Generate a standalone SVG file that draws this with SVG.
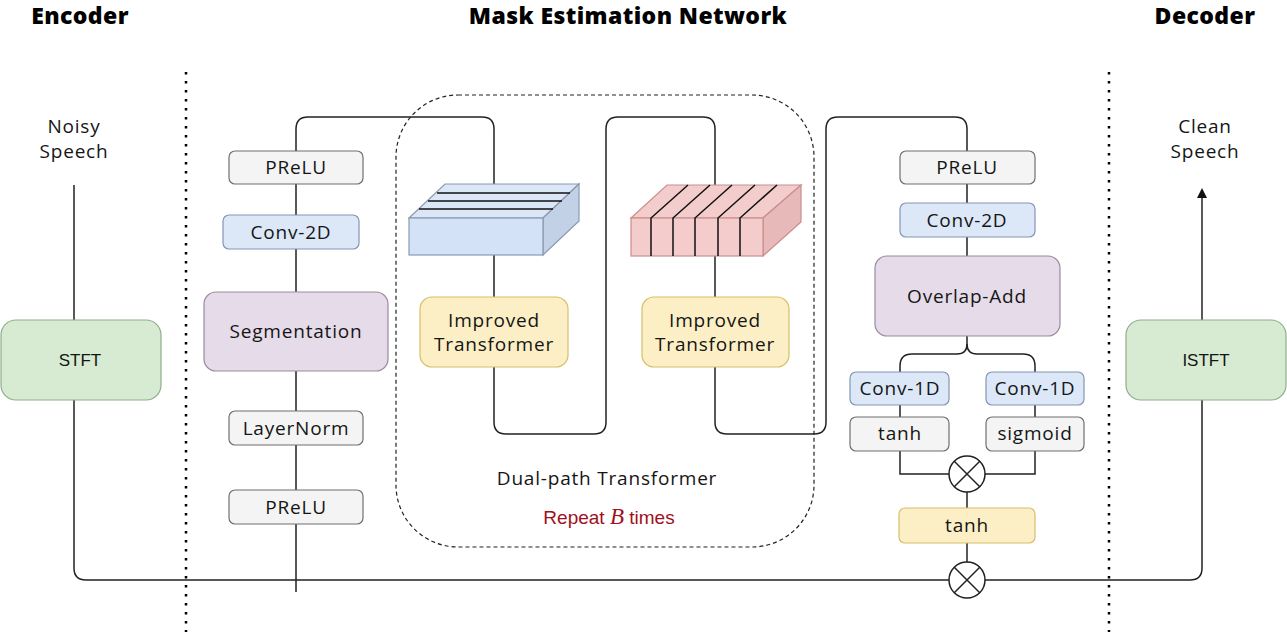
<svg xmlns="http://www.w3.org/2000/svg" width="1287" height="632" viewBox="0 0 1287 632">
<defs>
<style>
.t{font-family:"Open Sans","Liberation Sans",sans-serif;font-size:19px;letter-spacing:0.8px;fill:#151515;text-anchor:middle}
.h{font-family:"Open Sans","Liberation Sans",sans-serif;font-size:23px;letter-spacing:0.4px;font-weight:800;fill:#000;text-anchor:middle}
.a{font-family:"Liberation Sans",Arial,sans-serif;font-size:17px;fill:#151515;text-anchor:middle}
.gray{fill:#f4f4f4;stroke:#6f6f6f;stroke-width:1.2}
.blue{fill:#dce8f8;stroke:#8296b4;stroke-width:1.2}
.purple{fill:#e6dbe8;stroke:#9a8d9e;stroke-width:1.2}
.yellow{fill:#fcefc6;stroke:#d6bf6a;stroke-width:1.2}
.green{fill:#d6ebd1;stroke:#8fae8a;stroke-width:1.2}
.ln{fill:none;stroke:#222;stroke-width:1.5}
.dot{fill:none;stroke:#000;stroke-width:2.5;stroke-dasharray:2.5 6.5}
.mul{fill:#fff;stroke:#222;stroke-width:1.5}
</style>
<marker id="arr" markerWidth="10" markerHeight="10" refX="5" refY="5" orient="auto" markerUnits="userSpaceOnUse">
<path d="M0,0 L10,5 L0,10 Z" fill="#111"/>
</marker>
</defs>
<rect width="1287" height="632" fill="#fff"/>

<g id="titles">
<text class="h" x="80" y="24">Encoder</text>
<text class="h" x="628" y="24">Mask Estimation Network</text>
<text class="h" x="1205" y="24">Decoder</text>
</g>

<g id="separators">
<line class="dot" x1="186" y1="72" x2="186" y2="632"/>
<line class="dot" x1="1109" y1="72" x2="1109" y2="632"/>
</g>

<g id="connectors">
<path class="ln" d="M74,185 V568 Q74,580 86,580 H949"/>
<path class="ln" d="M985,580 H1190 Q1202,580 1202,568 V400"/>
<path class="ln" d="M1202,320 V193" marker-end="url(#arr)"/>
<path class="ln" d="M296,592 V129 Q296,117 308,117 H482 Q494,117 494,129 V422 Q494,434 506,434 H594 Q606,434 606,422 V129 Q606,117 618,117 H703 Q715,117 715,129 V422 Q715,434 727,434 H814 Q826,434 826,422 V129 Q826,117 838,117 H955 Q967,117 967,129 V336"/>
<path class="ln" d="M967,336 V344 Q967,354 957,354 H912 Q900,354 900,366 V474 H949"/>
<path class="ln" d="M967,344 Q967,354 977,354 H1023 Q1035,354 1035,366 V474 H985"/>
<path class="ln" d="M967,492 V562"/>
</g>

<g id="dual-path-frame">
<rect x="396" y="95" width="418" height="452" rx="62" fill="none" stroke="#222" stroke-width="1.2" stroke-dasharray="4 3"/>
<text class="t" x="607" y="485">Dual-path Transformer</text>
<text x="609" y="524" font-family="Liberation Sans,Arial,sans-serif" font-size="19" fill="#a01020" text-anchor="middle">Repeat <tspan font-family="Liberation Serif,serif" font-style="italic" font-size="23">B</tspan> times</text>
</g>

<g id="noisy-speech"><text class="t" x="74" y="133">Noisy</text><text class="t" x="74" y="158">Speech</text></g>
<g id="clean-speech"><text class="t" x="1205" y="133">Clean</text><text class="t" x="1205" y="158">Speech</text></g>

<g id="stft"><rect class="green" x="1" y="320" width="160" height="80" rx="15"/><text class="a" x="80" y="366">STFT</text></g>
<g id="istft"><rect class="green" x="1126" y="320" width="160" height="80" rx="15"/><text class="a" x="1206" y="366">ISTFT</text></g>

<g id="enc-prelu1"><rect class="gray" x="229" y="151" width="134" height="33" rx="6"/><text class="t" x="296" y="174">PReLU</text></g>
<g id="enc-conv2d"><rect class="blue" x="223" y="215" width="136" height="34" rx="6"/><text class="t" x="291" y="239">Conv-2D</text></g>
<g id="segmentation"><rect class="purple" x="204" y="292" width="184" height="79" rx="12"/><text class="t" x="296" y="338">Segmentation</text></g>
<g id="layernorm"><rect class="gray" x="229" y="411" width="134" height="34" rx="6"/><text class="t" x="296" y="435">LayerNorm</text></g>
<g id="enc-prelu2"><rect class="gray" x="229" y="490" width="134" height="34" rx="6"/><text class="t" x="296" y="514">PReLU</text></g>

<g id="intra-chunk-tensor">
<path d="M409,218 L445,184 L579,184 L543,218 Z" fill="#dbe7f6" stroke="#8a9ab2" stroke-width="1.2"/>
<path d="M543,218 L579,184 L579,221 L543,255 Z" fill="#c3d1e6" stroke="#8a9ab2" stroke-width="1.2"/>
<rect x="409" y="218" width="134" height="37" fill="#d3e2f6" stroke="#8a9ab2" stroke-width="1.2"/>
<line x1="437" y1="193" x2="570" y2="193" stroke="#111" stroke-width="1.5"/>
<line x1="428" y1="201" x2="562" y2="201" stroke="#111" stroke-width="1.5"/>
<line x1="419" y1="209" x2="553" y2="209" stroke="#111" stroke-width="1.5"/>
</g>

<g id="inter-chunk-tensor">
<path d="M631,218 L667,185 L801,185 L763,218 Z" fill="#f3cccc" stroke="#c98e8e" stroke-width="1.2"/>
<path d="M763,218 L801,185 L801,222 L763,256 Z" fill="#e8b9b9" stroke="#c98e8e" stroke-width="1.2"/>
<rect x="631" y="218" width="132" height="38" fill="#f5cccc" stroke="#c98e8e" stroke-width="1.2"/>
<g stroke="#111" stroke-width="1.5" fill="none">
<path d="M651,256 V218 L688,185"/>
<path d="M673,256 V218 L710,185"/>
<path d="M695,256 V218 L732,185"/>
<path d="M718,256 V218 L755,185"/>
<path d="M740,256 V218 L777,185"/>
</g>
</g>

<g id="improved-transformer-1"><rect class="yellow" x="420" y="297" width="148" height="70" rx="12"/><text class="t" x="494" y="327">Improved</text><text class="t" x="494" y="351">Transformer</text></g>
<g id="improved-transformer-2"><rect class="yellow" x="642" y="297" width="147" height="70" rx="12"/><text class="t" x="715" y="327">Improved</text><text class="t" x="715" y="351">Transformer</text></g>

<g id="dec-prelu"><rect class="gray" x="900" y="151" width="135" height="33" rx="6"/><text class="t" x="967" y="174">PReLU</text></g>
<g id="dec-conv2d"><rect class="blue" x="900" y="203" width="135" height="34" rx="6"/><text class="t" x="967" y="227">Conv-2D</text></g>
<g id="overlap-add"><rect class="purple" x="875" y="256" width="185" height="80" rx="12"/><text class="t" x="967" y="303">Overlap-Add</text></g>
<g id="conv1d-left"><rect class="blue" x="850" y="372" width="99" height="33" rx="6"/><text class="t" x="900" y="395">Conv-1D</text></g>
<g id="conv1d-right"><rect class="blue" x="986" y="372" width="98" height="33" rx="6"/><text class="t" x="1035" y="395">Conv-1D</text></g>
<g id="tanh-left"><rect class="gray" x="850" y="417" width="99" height="34" rx="6"/><text class="t" x="900" y="440">tanh</text></g>
<g id="sigmoid"><rect class="gray" x="986" y="417" width="98" height="34" rx="6"/><text class="t" x="1035" y="440">sigmoid</text></g>
<g id="mul-gate"><circle class="mul" cx="967" cy="474" r="18"/><path d="M954,461 L980,487 M980,461 L954,487" stroke="#222" stroke-width="1.5"/></g>
<g id="tanh-out"><rect class="yellow" x="899" y="508" width="136" height="35" rx="6"/><text class="t" x="967" y="532">tanh</text></g>
<g id="mul-mask"><circle class="mul" cx="967" cy="580" r="18"/><path d="M954,567 L980,593 M980,567 L954,593" stroke="#222" stroke-width="1.5"/></g>
</svg>
